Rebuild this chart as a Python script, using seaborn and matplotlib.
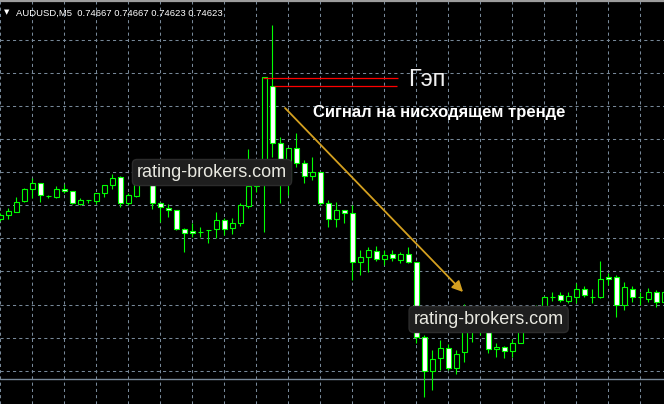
import numpy as np
import pandas as pd
import matplotlib
matplotlib.use('Agg')
import matplotlib.pyplot as plt
import seaborn as sns

# AUDUSD M5 candles
opens = [0.74552, 0.74556, 0.74559, 0.74570, 0.74582, 0.74588, 0.74575, 0.74574, 0.74582, 0.74580,
         0.74567, 0.74571, 0.74570, 0.74578, 0.74586, 0.74594, 0.74568, 0.74575, 0.74589, 0.74586,
         0.74568, 0.74563, 0.74561, 0.74542, 0.74540, 0.74539, 0.74541, 0.74542, 0.74551, 0.74543,
         0.74548, 0.74565, 0.74585, 0.74589, 0.74685, 0.74628, 0.74591, 0.74623, 0.74608, 0.74595,
         0.74599, 0.74568, 0.74552, 0.74561, 0.74558, 0.74509, 0.74514, 0.74520, 0.74512, 0.74517,
         0.74511, 0.74517, 0.74509, 0.74434, 0.74400, 0.74413, 0.74423, 0.74403, 0.74419, 0.74442,
         0.74443, 0.74439, 0.74422, 0.74424, 0.74420, 0.74428, 0.74451, 0.74462, 0.74461, 0.74474,
         0.74476, 0.74470, 0.74474, 0.74482, 0.74474, 0.74474, 0.74494, 0.74494, 0.74466, 0.74482,
         0.74474, 0.74472, 0.74479, 0.74469]
highs = [0.74558, 0.74563, 0.74574, 0.74583, 0.74593, 0.74588, 0.74576, 0.74585, 0.74587, 0.74580,
         0.74573, 0.74571, 0.74578, 0.74586, 0.74597, 0.74595, 0.74578, 0.74591, 0.74591, 0.74588,
         0.74569, 0.74567, 0.74561, 0.74543, 0.74548, 0.74544, 0.74541, 0.74559, 0.74553, 0.74553,
         0.74568, 0.74622, 0.74594, 0.74694, 0.74746, 0.74634, 0.74623, 0.74638, 0.74611, 0.74614,
         0.74599, 0.74571, 0.74569, 0.74561, 0.74566, 0.74521, 0.74524, 0.74525, 0.74521, 0.74521,
         0.74519, 0.74524, 0.74509, 0.74436, 0.74421, 0.74431, 0.74427, 0.74421, 0.74467, 0.74456,
         0.74447, 0.74443, 0.74428, 0.74425, 0.74432, 0.74464, 0.74465, 0.74466, 0.74475, 0.74479,
         0.74479, 0.74479, 0.74488, 0.74485, 0.74482, 0.74510, 0.74498, 0.74496, 0.74489, 0.74485,
         0.74479, 0.74483, 0.74481, 0.74481]
lows = [0.74550, 0.74552, 0.74559, 0.74569, 0.74573, 0.74569, 0.74573, 0.74573, 0.74578, 0.74567,
        0.74566, 0.74568, 0.74567, 0.74574, 0.74582, 0.74564, 0.74566, 0.74574, 0.74587, 0.74562,
        0.74549, 0.74554, 0.74541, 0.74519, 0.74534, 0.74534, 0.74528, 0.74533, 0.74536, 0.74537,
        0.74545, 0.74563, 0.74579, 0.74539, 0.74614, 0.74568, 0.74576, 0.74604, 0.74588, 0.74591,
        0.74566, 0.74544, 0.74544, 0.74548, 0.74491, 0.74496, 0.74499, 0.74510, 0.74506, 0.74510,
        0.74508, 0.74508, 0.74428, 0.74374, 0.74381, 0.74401, 0.74401, 0.74397, 0.74409, 0.74429,
        0.74436, 0.74418, 0.74414, 0.74413, 0.74414, 0.74428, 0.74445, 0.74457, 0.74459, 0.74470,
        0.74469, 0.74468, 0.74468, 0.74474, 0.74468, 0.74473, 0.74486, 0.74454, 0.74461, 0.74469,
        0.74466, 0.74469, 0.74464, 0.74468]
closes = [0.74556, 0.74560, 0.74569, 0.74582, 0.74588, 0.74576, 0.74575, 0.74582, 0.74580, 0.74568,
          0.74571, 0.74571, 0.74578, 0.74586, 0.74593, 0.74568, 0.74576, 0.74589, 0.74587, 0.74568,
          0.74564, 0.74561, 0.74542, 0.74538, 0.74538, 0.74539, 0.74541, 0.74551, 0.74542, 0.74548,
          0.74566, 0.74585, 0.74588, 0.74694, 0.74628, 0.74609, 0.74623, 0.74608, 0.74595, 0.74599,
          0.74568, 0.74552, 0.74561, 0.74558, 0.74509, 0.74514, 0.74521, 0.74512, 0.74516, 0.74513,
          0.74517, 0.74509, 0.74434, 0.74400, 0.74412, 0.74423, 0.74403, 0.74417, 0.74441, 0.74449,
          0.74440, 0.74422, 0.74424, 0.74420, 0.74428, 0.74456, 0.74462, 0.74463, 0.74474, 0.74474,
          0.74471, 0.74475, 0.74482, 0.74476, 0.74474, 0.74492, 0.74492, 0.74466, 0.74484, 0.74474,
          0.74474, 0.74479, 0.74469, 0.74479]

grid_levels = [0.74731, 0.74698, 0.74665, 0.74632, 0.74599, 0.74566,
               0.74533, 0.74500, 0.74466, 0.74433, 0.74400]
gap_levels = [0.746935, 0.746855]
header = "AUDUSD,M5  0.74667 0.74667 0.74623 0.74623"
gap_label = "Гэп"
signal_label = "Сигнал на нисходящем тренде"
watermark = "rating-brokers.com"

df = pd.DataFrame({'open': opens, 'high': highs, 'low': lows, 'close': closes})
df['bar'] = np.arange(len(df))

sns.set_theme(style='dark', rc={
    'axes.facecolor': 'black',
    'figure.facecolor': 'black',
    'grid.color': '#778899',
    'grid.linestyle': (0, (3, 3)),
    'grid.linewidth': 0.75,
})
plt.rcParams['font.family'] = ['Liberation Sans', 'DejaVu Sans']

fig = plt.figure(figsize=(6.64, 4.04), dpi=100)
ax = fig.add_axes([0, 0, 1, 1])

LIME = '#00ff00'

# wicks, then bodies on top (bull = hollow, bear = white)
ax.vlines(df['bar'], df['low'], df['high'], colors=LIME, lw=0.8, zorder=2)
face = np.where(df['close'] >= df['open'], 'black', 'white')
ax.bar(df['bar'], df['close'] - df['open'], bottom=df['open'], width=0.55,
       color=face, edgecolor=LIME, linewidth=0.8, zorder=3)

# grid
ax.set_xticks(np.arange(0, 84, 4))
ax.set_yticks(grid_levels)
ax.grid(True, zorder=0)
ax.set_axisbelow(True)
ax.tick_params(length=0, labelbottom=False, labelleft=False)
for s in ax.spines.values():
    s.set_visible(False)

ax.set_xlim(-0.04, 82.96)
ax.set_ylim(0.74367, 0.74771)

# window border and bottom line
ax.axhline(0.74770, color='#9c9c9c', lw=1.6, zorder=5)
ax.axhline(0.74392, color='#778899', lw=1.0, zorder=1)

# gap marks
ax.hlines(gap_levels, [32.84, 34.2], [49.7, 49.6], colors='#ff0000',
          lw=0.9, zorder=4)
ax.text(50.96, 0.74685, gap_label, color='#f0f0f0', fontsize=17,
        ha='left', va='baseline', zorder=6)

ax.text(39.1, 0.74654, signal_label, color='white', fontsize=12,
        fontweight='bold', ha='left', va='baseline', zorder=6)

# trend arrow
ax.annotate('', xy=(57.84, 0.74479), xytext=(35.59, 0.74663),
            arrowprops=dict(arrowstyle='-|>', color='#d4a020', lw=1.3,
                            mutation_scale=16, shrinkA=0, shrinkB=0), zorder=6)

# watermarks
for wx, wy in [(26.46, 0.74594), (61.04, 0.74447)]:
    ax.text(wx, wy, watermark, color='#e8e8e0', fontsize=13, ha='center',
            va='baseline', zorder=7,
            bbox=dict(boxstyle='round,pad=0.25', fc='#1e1e1e', ec='#2c2c2c', lw=1))

# header
fig.text(4 / 664, 1 - 14 / 404, '▼', color='white', fontsize=5,
         family=['DejaVu Sans'], va='baseline')
fig.text(16 / 664, 1 - 16 / 404, header, color='white', fontsize=6.8, va='baseline')

plt.savefig('out.png', dpi=100, facecolor='black')
